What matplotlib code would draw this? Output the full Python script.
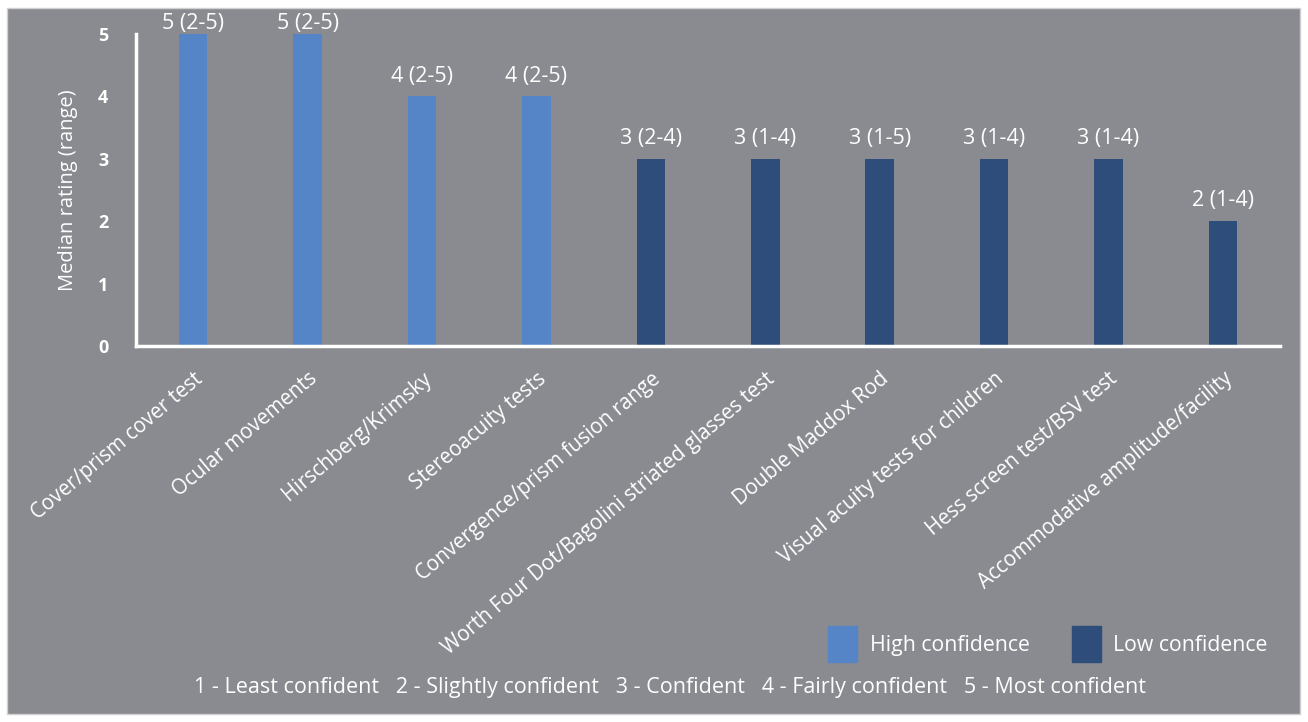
import matplotlib.pyplot as plt
from matplotlib.patches import Rectangle, Patch

# data
tests = ["Cover/prism cover test", "Ocular movements", "Hirschberg/Krimsky",
         "Stereoacuity tests", "Convergence/prism fusion range",
         "Worth Four Dot/Bagolini striated glasses test", "Double Maddox Rod",
         "Visual acuity tests for children", "Hess screen test/BSV test",
         "Accommodative amplitude/facility"]
medians = [5, 5, 4, 4, 3, 3, 3, 3, 3, 2]
ranges = ["2-5", "2-5", "2-5", "2-5", "2-4", "1-4", "1-5", "1-4", "1-4", "1-4"]
groups = ["High", "High", "High", "High", "Low", "Low", "Low", "Low", "Low", "Low"]

plt.rcParams['font.family'] = ['Open Sans', 'DejaVu Sans']

bg = "#8a8b90"
col = {"High": "#5585c6", "Low": "#2e4d7b"}

fig = plt.figure(figsize=(13.08, 7.22), dpi=100, facecolor="white")
fig.patches.append(Rectangle((7/1308, 8/722), 1293/1308, 706/722,
                             transform=fig.transFigure, facecolor=bg,
                             edgecolor="#d0d0d0", lw=1, zorder=-5))

ax = fig.add_axes([136/1308, 1-346/722, 1144/1308, 312/722])
ax.set_facecolor("none")

x = list(range(len(tests)))
ymax = 5
bars = ax.bar(x, medians, width=0.25, color=[col[g] for g in groups], zorder=2)
for xi, m, r in zip(x, medians, ranges):
    # labels on full-height bars are kept inside the chart, like Excel does
    off = 0 if m >= ymax else 7
    ax.annotate(f"{m} ({r})", (xi, m), xytext=(0, off), textcoords="offset points",
                ha="center", va="bottom", color="white", fontsize=15.5)

ax.set_xlim(-0.5, 9.5)
ax.set_ylim(0, ymax)
ax.set_yticks(range(6))
ax.set_yticklabels([str(i) for i in range(6)], fontsize=13, fontweight="bold",
                   color="white")
ax.tick_params(axis="y", length=0, pad=20)
ax.tick_params(axis="x", length=0, pad=16)
ax.set_xticks(x)
ax.set_xticklabels(tests, rotation=40, ha="right", rotation_mode="anchor",
                   fontsize=14.8, color="white")
ax.set_ylabel("Median rating (range)", fontsize=14.5, color="white", labelpad=14)

for s in ["top", "right"]:
    ax.spines[s].set_visible(False)
for s in ["left", "bottom"]:
    ax.spines[s].set_color("white")
    ax.spines[s].set_linewidth(2.5)

handles = [Patch(color=col["High"], label="High confidence"),
           Patch(color=col["Low"], label="Low confidence")]
fig.legend(handles=handles, loc="center", bbox_to_anchor=(1048/1308, 1-644/722),
           ncol=2, frameon=False, fontsize=15.3, labelcolor="white",
           handlelength=1.35, handleheight=2.2, handletextpad=0.6, columnspacing=2.0)

fig.text(670/1308, 1-688/722,
         "1 - Least confident   2 - Slightly confident   3 - Confident   "
         "4 - Fairly confident   5 - Most confident",
         ha="center", va="center", color="white", fontsize=15.5)

fig.savefig("out.png", dpi=100, facecolor=fig.get_facecolor())
